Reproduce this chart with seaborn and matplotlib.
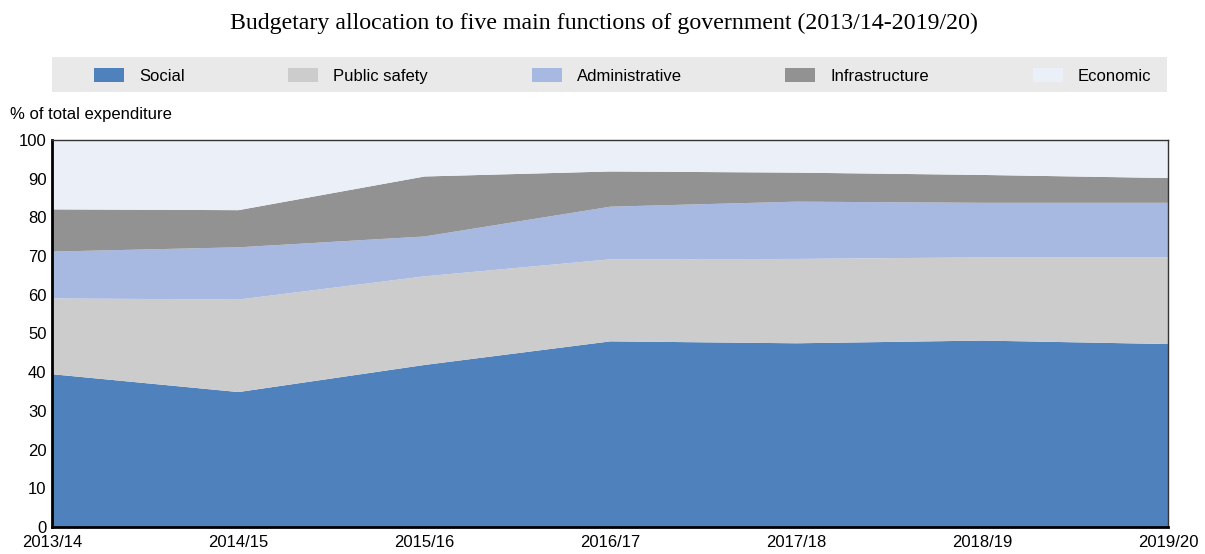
import numpy as np
import pandas as pd
import matplotlib
matplotlib.use("Agg")
import matplotlib.pyplot as plt
import seaborn as sns
from matplotlib.patches import Patch, Rectangle

# -------------------------------
# Data (% of total expenditure)
# -------------------------------
years = ["2013/14", "2014/15", "2015/16", "2016/17", "2017/18", "2018/19", "2019/20"]
social = [39.6, 35.0, 42.0, 48.1, 47.6, 48.3, 47.4]
public_safety = [19.6, 23.9, 22.9, 21.2, 21.8, 21.5, 22.4]
administrative = [12.1, 13.5, 10.3, 13.6, 14.8, 14.1, 14.1]
infrastructure = [10.9, 9.6, 15.5, 9.1, 7.5, 7.2, 6.4]
economic = [17.8, 18.0, 9.3, 8.0, 8.3, 8.9, 9.7]

series = ["Social", "Public safety", "Administrative", "Infrastructure", "Economic"]
colors = ["#4f81bd", "#cccccc", "#a7b8e1", "#929292", "#ebeff7"]

df = pd.DataFrame(
    {
        "Social": social,
        "Public safety": public_safety,
        "Administrative": administrative,
        "Infrastructure": infrastructure,
        "Economic": economic,
    },
    index=years,
)

# -------------------------------
# Style
# -------------------------------
sns.set_style("white")
plt.rcParams["font.family"] = ["Liberation Sans", "DejaVu Sans"]
plt.rcParams["text.color"] = "black"

W, H = 1205, 554
fig = plt.figure(figsize=(W / 100, H / 100), dpi=100)
ax = fig.add_axes([52 / W, 1 - 527 / H, (1168 - 52) / W, (527 - 140) / H])

x = np.arange(len(years))
ax.stackplot(x, df.T.values, colors=colors, labels=series, linewidth=0)

ax.set_xlim(0, len(years) - 1)
ax.set_ylim(0, 100)
ax.set_yticks(range(0, 101, 10))
ax.set_xticks(x)
ax.set_xticklabels(years)
ax.tick_params(axis="both", direction="in", length=5, width=1.5, labelsize=12, pad=4, colors="black")
ax.tick_params(axis="x", pad=6)

for side in ["left", "bottom"]:
    ax.spines[side].set_color("black")
    ax.spines[side].set_linewidth(2)
for side in ["top", "right"]:
    ax.spines[side].set_color("#333333")
    ax.spines[side].set_linewidth(1)
ax.set_zorder(2)

# -------------------------------
# Title, axis label, legend
# -------------------------------
fig.text(604 / W, 1 - 23 / H, "Budgetary allocation to five main functions of government (2013/14-2019/20)",
         ha="center", va="center", fontsize=17.2, family="Liberation Serif", color="black")
fig.text(10 / W, 1 - 114 / H, "% of total expenditure", ha="left", va="center", fontsize=12, color="black")

fig.patches.append(Rectangle((52 / W, 1 - 92 / H), (1167 - 52) / W, 35 / H,
                             transform=fig.transFigure, facecolor="#e9e9e9", edgecolor="none", zorder=0))
handles = [Patch(facecolor=c, edgecolor="none") for c in colors]
leg = fig.legend(handles, series, ncol=5, loc="center left",
                 bbox_to_anchor=(94 / W, 1 - 76 / H, (1151 - 94) / W, 0),
                 mode="expand", frameon=False, fontsize=12,
                 handlelength=1.8, handleheight=0.9, handletextpad=0.9,
                 borderaxespad=0, borderpad=0, labelcolor="black")

fig.savefig("out.png", dpi=100)
